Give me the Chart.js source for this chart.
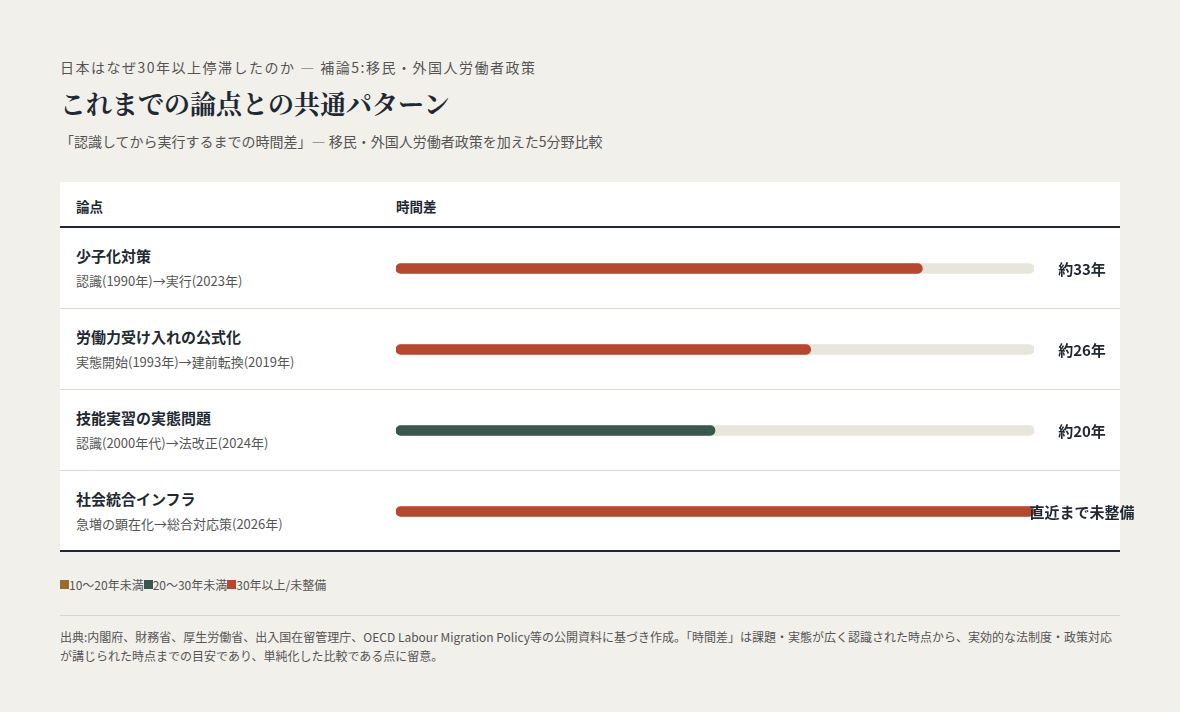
<!DOCTYPE html>
<html lang="ja">
<head>
<meta charset="UTF-8">
<title>これまでの論点との共通パターン</title>
<script src="https://cdn.jsdelivr.net/npm/chart.js"></script>
<style>
  body { margin: 0; background: #f2f0eb; font-family: "Noto Sans CJK JP", "Noto Sans", sans-serif; color: #1f2933; }
  .page { position: relative; width: 1180px; height: 712px; }
  .kicker { position: absolute; left: 60px; top: 57px; font-size: 14px; letter-spacing: 1.5px; color: #555; }
  h1 { position: absolute; left: 60px; top: 84px; margin: 0; font-family: "Noto Serif CJK JP", serif; font-size: 26px; font-weight: 700; color: #1f2933; }
  .sub { position: absolute; left: 60px; top: 131px; font-size: 14px; color: #555; }
  .panel { position: absolute; left: 60px; top: 182px; width: 1060px; height: 370px; background: #fff; }
  .head { position: absolute; top: 196px; font-size: 13.5px; font-weight: 700; }
  .rule { position: absolute; left: 60px; width: 1060px; }
  .row-title { position: absolute; left: 76px; font-size: 15px; font-weight: 700; }
  .row-note { position: absolute; left: 76px; font-size: 13px; color: #555; }
  #chartBox { position: absolute; left: 396px; top: 228px; width: 760px; height: 324px; }
  .legend { position: absolute; left: 60px; top: 576px; font-size: 12px; color: #555; display: flex; }
  .legend span.sw { display: inline-block; width: 9px; height: 9px; }
  .note { position: absolute; left: 60px; top: 627px; width: 1060px; font-size: 12px; line-height: 19px; color: #555; }
</style>
</head>
<body>
<div class="page">
  <div class="kicker">日本はなぜ30年以上停滞したのか — 補論5:移民・外国人労働者政策</div>
  <h1>これまでの論点との共通パターン</h1>
  <div class="sub">「認識してから実行するまでの時間差」— 移民・外国人労働者政策を加えた5分野比較</div>

  <div class="panel"></div>
  <div class="head" style="left:76px">論点</div>
  <div class="head" style="left:396px">時間差</div>
  <div class="rule" style="top:226px;height:2px;background:#1f2933"></div>
  <div id="rows"></div>
  <div class="rule" style="top:550px;height:2px;background:#1f2933"></div>

  <div id="chartBox"><canvas id="chartCanvas" width="760" height="324"></canvas></div>

  <div class="legend" id="legend"></div>
  <div class="rule" style="top:615px;height:1px;background:#d9d6cf"></div>
  <div class="note">出典:内閣府、財務省、厚生労働省、出入国在留管理庁、OECD Labour Migration Policy等の公開資料に基づき作成。「時間差」は課題・実態が広く認識された時点から、実効的な法制度・政策対応<br>が講じられた時点までの目安であり、単純化した比較である点に留意。</div>
</div>

<script>
  // データ
  const topics = ["少子化対策", "労働力受け入れの公式化", "技能実習の実態問題", "社会統合インフラ"];
  const notes = ["認識(1990年)→実行(2023年)", "実態開始(1993年)→建前転換(2019年)", "認識(2000年代)→法改正(2024年)", "急増の顕在化→総合対応策(2026年)"];
  const gaps = [33, 26, 20, 40];
  const gapLabels = ["約33年", "約26年", "約20年", "直近まで未整備"];
  const trackMax = 40;
  const barColors = ["#b5482f", "#b5482f", "#3b564c", "#b5482f"];
  const legendLabels = ["10〜20年未満", "20〜30年未満", "30年以上/未整備"];
  const legendColors = ["#9a6a2e", "#3b564c", "#b5482f"];

  // 行ラベル
  let rowsDiv = document.getElementById("rows");
  const rowTop = 228, rowH = 81;
  topics.forEach(function(t, i) {
    let y = rowTop + i * rowH;
    rowsDiv.innerHTML += `<div class="row-title" style="top:${y + 17}px">${t}</div>` +
      `<div class="row-note" style="top:${y + 43}px">${notes[i]}</div>`;
    if (i < topics.length - 1) {
      rowsDiv.innerHTML += `<div class="rule" style="top:${y + rowH - 1}px;height:1px;background:#dcd9d2"></div>`;
    }
  });

  // 凡例
  let legendDiv = document.getElementById("legend");
  legendLabels.forEach(function(l, i) {
    legendDiv.innerHTML += `<span style="display:flex;align-items:center"><span class="sw" style="background:${legendColors[i]}"></span>${l}</span>`;
  });

  // 値ラベル
  const valueLabels = {
    id: "valueLabels",
    afterDatasetsDraw(chart) {
      let ctx = chart.ctx;
      let meta = chart.getDatasetMeta(0);
      ctx.save();
      ctx.font = "700 15px 'Noto Sans CJK JP'";
      ctx.fillStyle = "#1f2933";
      ctx.textAlign = "center";
      ctx.textBaseline = "middle";
      meta.data.forEach(function(bar, i) {
        ctx.fillText(gapLabels[i], 686, bar.y + 1);
      });
      ctx.restore();
    }
  };

  let ctx = document.getElementById("chartCanvas").getContext("2d");
  new Chart(ctx, {
    type: "bar",
    data: {
      labels: topics,
      datasets: [
        {
          data: gaps,
          backgroundColor: barColors,
          barThickness: 10,
          borderRadius: 5,
          borderSkipped: false,
          grouped: false,
          order: 0
        },
        {
          data: topics.map(function() { return trackMax; }),
          backgroundColor: "#e8e5dd",
          barThickness: 10,
          borderRadius: 5,
          borderSkipped: false,
          grouped: false,
          order: 1
        }
      ]
    },
    options: {
      indexAxis: "y",
      responsive: false,
      animation: false,
      layout: { padding: { left: 0, right: 122, top: 0, bottom: 0 } },
      scales: {
        x: { display: false, min: 0, max: trackMax },
        y: { display: false }
      },
      plugins: { legend: { display: false }, tooltip: { enabled: false } }
    },
    plugins: [valueLabels]
  });
</script>
</body>
</html>
